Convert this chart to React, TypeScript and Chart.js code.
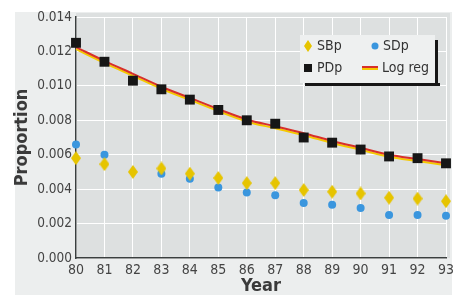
import React, { useEffect, useRef } from "react";
import { Chart, registerables } from "chart.js";

Chart.register(...registerables);

const years = ["80", "81", "82", "83", "84", "85", "86", "87", "88", "89", "90", "91", "92", "93"];
const sbp = [0.0058, 0.00545, 0.005, 0.0052, 0.0049, 0.00465, 0.00435, 0.00435, 0.00395, 0.00385, 0.00375, 0.0035, 0.00345, 0.0033];
const sdp = [0.0066, 0.006, null, 0.0049, 0.0046, 0.0041, 0.0038, 0.00365, 0.0032, 0.0031, 0.0029, 0.0025, 0.0025, 0.00245];
const pdp = [0.0125, 0.0114, 0.0103, 0.0098, 0.0092, 0.0086, 0.008, 0.0078, 0.007, 0.0067, 0.0063, 0.0059, 0.0058, 0.0055];
const logReg = [0.01225, 0.01145, 0.0107, 0.00995, 0.0093, 0.00865, 0.00805, 0.00765, 0.00725, 0.0068, 0.0064, 0.006, 0.00575, 0.0055];
const yTicks = [0, 0.002, 0.004, 0.006, 0.008, 0.01, 0.012, 0.014];

const FONT = "'DejaVu Sans Condensed', 'Liberation Sans Narrow', 'Roboto', sans-serif";
const YELLOW = "#e6c400";
const BLUE = "#3a96de";
const BLACK = "#161616";
const RED = "#d8302a";
const SHADOW_YELLOW = "#f5c800";

function makeDiamond(w: number, h: number, color: string) {
  const c = document.createElement("canvas");
  c.width = w;
  c.height = h;
  const ctx = c.getContext("2d")!;
  ctx.fillStyle = color;
  ctx.beginPath();
  ctx.moveTo(w / 2, 0);
  ctx.lineTo(w, h / 2);
  ctx.lineTo(w / 2, h);
  ctx.lineTo(0, h / 2);
  ctx.closePath();
  ctx.fill();
  return c;
}

export default function App() {
  const ref = useRef<HTMLCanvasElement>(null);
  useEffect(() => {
    const diamond = makeDiamond(10, 14, YELLOW);
    const legendDiamond = makeDiamond(8, 12, YELLOW);

    const bgPlugin = {
      id: "bg",
      beforeDraw(chart: any) {
        const { ctx, chartArea } = chart;
        ctx.save();
        ctx.fillStyle = "#ffffff";
        ctx.fillRect(0, 0, chart.width, chart.height);
        ctx.fillStyle = "#eceeee";
        ctx.fillRect(15, 12, chart.width - 22, chart.height - 12);
        ctx.fillStyle = "#dde0e0";
        ctx.fillRect(chartArea.left, chartArea.top - 4, chartArea.width + 4, chartArea.height + 4);
        ctx.restore();
      },
    };

    const shadowPlugin = {
      id: "lineShadow",
      beforeDatasetDraw(chart: any, args: any) {
        if (args.index === 3) {
          const ctx = chart.ctx;
          ctx.save();
          ctx.shadowColor = SHADOW_YELLOW;
          ctx.shadowOffsetX = 0;
          ctx.shadowOffsetY = 2;
          ctx.shadowBlur = 0;
        }
      },
      afterDatasetDraw(chart: any, args: any) {
        if (args.index === 3) chart.ctx.restore();
      },
    };

    const legendPlugin = {
      id: "customLegend",
      afterDraw(chart: any) {
        const { ctx, chartArea } = chart;
        const bx = chartArea.right - 146;
        const by = chartArea.top + 18;
        const bw = 135;
        const bh = 48;
        ctx.save();
        ctx.fillStyle = BLACK;
        ctx.fillRect(bx + 5, by + bh, bw, 3);
        ctx.fillRect(bx + bw, by + 5, 3, bh - 2);
        ctx.fillStyle = "#eef0f0";
        ctx.fillRect(bx, by, bw, bh);
        ctx.font = `14px ${FONT}`;
        ctx.fillStyle = "#333";
        ctx.textBaseline = "middle";
        const r1 = by + 11;
        const r2 = by + 33;
        ctx.drawImage(legendDiamond, bx + 4, r1 - 6);
        ctx.fillText("SBp", bx + 17, r1);
        ctx.fillStyle = BLUE;
        ctx.beginPath();
        ctx.arc(bx + 75, r1, 3.5, 0, Math.PI * 2);
        ctx.fill();
        ctx.fillStyle = "#333";
        ctx.fillText("SDp", bx + 83, r1);
        ctx.fillStyle = BLACK;
        ctx.fillRect(bx + 4, r2 - 4, 8, 8);
        ctx.fillStyle = "#333";
        ctx.fillText("PDp", bx + 17, r2);
        ctx.fillStyle = SHADOW_YELLOW;
        ctx.fillRect(bx + 62, r2, 16, 2);
        ctx.fillStyle = RED;
        ctx.fillRect(bx + 62, r2 - 2, 16, 2);
        ctx.fillStyle = "#333";
        ctx.fillText("Log reg", bx + 82, r2);
        ctx.restore();
      },
    };

    const chart = new Chart(ref.current!, {
      type: "line",
      data: {
        labels: years,
        datasets: [
          {
            label: "SDp",
            data: sdp,
            showLine: false,
            pointStyle: "circle",
            pointRadius: 4,
            pointBorderWidth: 0,
            pointBackgroundColor: BLUE,
            borderColor: BLUE,
            order: 4,
          },
          {
            label: "SBp",
            data: sbp,
            showLine: false,
            pointStyle: diamond as any,
            pointRadius: 5,
            pointBorderWidth: 0,
            pointBackgroundColor: YELLOW,
            borderColor: YELLOW,
            order: 3,
          },
          {
            label: "PDp",
            data: pdp,
            showLine: false,
            pointStyle: "rect",
            pointRadius: 7,
            pointBorderWidth: 0,
            pointBackgroundColor: BLACK,
            borderColor: BLACK,
            order: 1,
          },
          {
            label: "Log reg",
            data: logReg,
            borderColor: RED,
            borderWidth: 2,
            pointRadius: 0,
            tension: 0.4,
            cubicInterpolationMode: "monotone",
            fill: false,
            order: 2,
          },
        ],
      } as any,
      options: {
        animation: false,
        responsive: false,
        events: [],
        layout: { padding: { left: 0, right: 13, top: 17, bottom: 0 } },
        plugins: { legend: { display: false }, tooltip: { enabled: false } },
        scales: {
          x: {
            type: "category",
            offset: false,
            grid: { color: "#ffffff", lineWidth: 1, drawTicks: false },
            border: { display: true, color: "#3a3f3f", width: 1.5 },
            ticks: {
              color: "#444",
              font: { family: FONT, size: 14 },
              padding: 4,
              maxRotation: 0,
              autoSkip: false,
            },
            title: {
              display: true,
              text: "Year",
              color: "#3a3a3a",
              font: { family: FONT, size: 18, weight: "bold", lineHeight: 1 },
              padding: { top: 0, bottom: 0 },
            },
            afterFit(scale: any) {
              scale.height = 37;
            },
          },
          y: {
            min: 0,
            max: 0.014,
            afterBuildTicks(scale: any) {
              scale.ticks = yTicks.map((v) => ({ value: v }));
            },
            grid: { color: "#ffffff", lineWidth: 1, drawTicks: false },
            border: { display: true, color: "#3a3f3f", width: 1.5 },
            ticks: {
              color: "#444",
              font: { family: FONT, size: 13.5 },
              padding: 4,
              callback: (v: any) => Number(v).toFixed(3),
            },
            title: {
              display: true,
              text: "Proportion",
              color: "#3a3a3a",
              font: { family: FONT, size: 18, weight: "bold", lineHeight: 1 },
              padding: { top: 13, bottom: 0 },
            },
            afterFit(scale: any) {
              scale.width = 76;
            },
          },
        },
      } as any,
      plugins: [bgPlugin, shadowPlugin, legendPlugin],
    });
    return () => chart.destroy();
  }, []);
  return (
    <div style={{ position: "absolute", left: 0, top: 0, width: 459, height: 295 }}>
      <canvas ref={ref} width={459} height={295} style={{ display: "block" }} />
    </div>
  );
}
